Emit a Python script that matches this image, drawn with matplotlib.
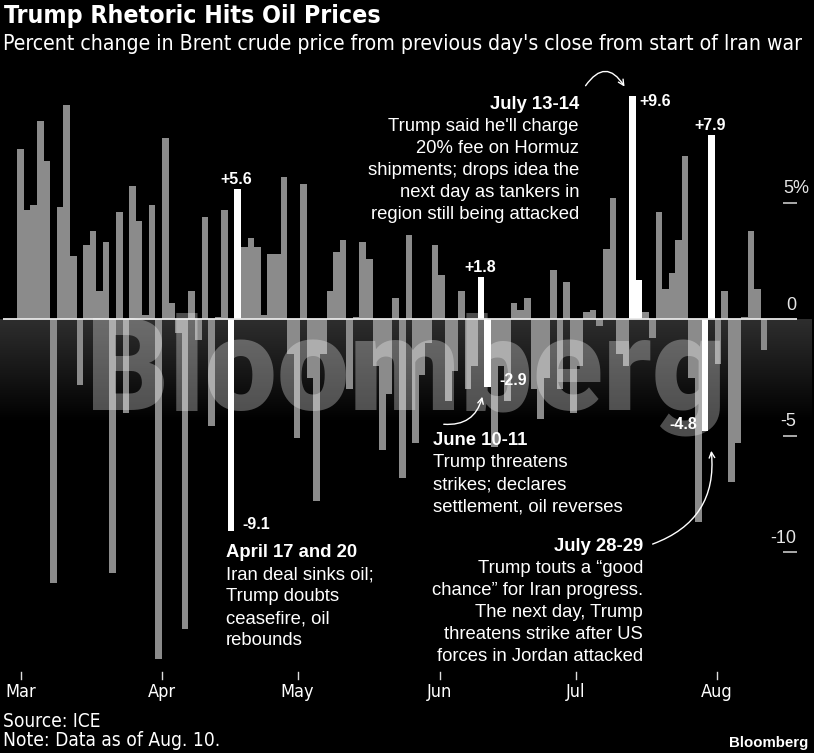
import numpy as np
import matplotlib
matplotlib.use('Agg')
import matplotlib.pyplot as plt
from matplotlib import font_manager as fm
from matplotlib.font_manager import FontProperties
from matplotlib.patches import FancyArrowPatch
from matplotlib.transforms import blended_transform_factory

# daily % change in Brent crude, one value per trading day since the war began
changes = [
    7.3, 4.7, 4.9, 8.5, 6.8, -11.3, 4.8, 9.2, 2.7, -2.8,
    3.2, 3.8, 1.2, 3.3, -10.9, 4.6, -4.0, 5.7, 4.2, 0.2,
    4.9, -14.6, 7.8, 0.7, -0.6, -13.3, 1.2, -0.9, 4.4, -4.6,
    0.1, 4.7, -9.1, 5.6, 3.1, 3.5, 3.1, 0.2, 2.8, 2.8,
    6.1, -1.5, -5.1, 5.8, -2.5, -7.8, -1.5, 1.2, 2.9, 3.4,
    -3.0, 0.1, 3.3, 2.6, -2.0, -5.6, -3.2, 0.9, -6.8, 3.6,
    -5.3, -2.4, -1.0, 3.2, 1.9, -3.5, -2.2, 1.2, -3.0, -2.0,
    1.8, -2.9, -5.5, -2.0, -3.5, 0.7, 0.4, 0.9, -3.0, -4.3,
    -2.5, 2.1, -3.0, 1.6, -4.0, -2.0, 0.3, 0.4, -0.3, 3.0,
    5.2, -1.5, -2.0, 9.6, 1.7, 0.3, -0.8, 4.6, 1.3, 2.0,
    3.4, 7.0, -2.5, -8.7, -4.8, 7.9, -1.9, 1.2, -7.0, -5.3,
    0.1, 3.8, 1.3, -1.3,
]
highlight_days = [32, 33, 70, 71, 93, 94, 104, 105]

# value callouts: day index, text, where it sits
callouts = [
    (32, '-9.1', 'right_end'),
    (33, '+5.6', 'above'),
    (70, '+1.8', 'above'),
    (71, '-2.9', 'right_end'),
    (93, '+9.6', 'right_top'),
    (104, '-4.8', 'left_end'),
    (105, '+7.9', 'above'),
]

month_pos = [0.03, 21.5, 42.1, 63.7, 84.4, 105.8]
month_labels = ['Mar', 'Apr', 'May', 'Jun', 'Jul', 'Aug']

ytick_vals = [5, 0, -5, -10]
ytick_labels = ['5%', '0', '-5', '-10']

notes = [
    (226, 557, 'left', 'April 17 and 20',
     ['Iran deal sinks oil;', 'Trump doubts', 'ceasefire, oil', 'rebounds']),
    (433, 445, 'left', 'June 10-11',
     ['Trump threatens', 'strikes; declares', 'settlement, oil reverses']),
    (579, 109, 'right', 'July 13-14',
     ["Trump said he'll charge", '20% fee on Hormuz', 'shipments; drops idea the',
      'next day as tankers in', 'region still being attacked']),
    (643, 551, 'right', 'July 28-29',
     ['Trump touts a \u201cgood', 'chance\u201d for Iran progress.', 'The next day, Trump',
      'threatens strike after US', 'forces in Jordan attacked']),
]

W, H = 814, 753
X0, DX = 20.6, 6.58     # pixel centre of day 0, pixels per day
Y0, DY = 319.3, 23.3    # pixel row of 0%, pixels per percent
GRAY = '#8b8b8b'


def px2x(px):
    return (px - X0) / DX


def py2y(py):
    return (Y0 - py) / DY


def wnum(w):
    if isinstance(w, (int, float)):
        return w
    return fm.weight_dict.get(str(w).lower(), 400)


def condensed_face(bold):
    # look for any installed condensed / narrow sans face
    order = ['dejavu', 'liberation', 'noto sans', 'open sans', 'roboto']
    best = None
    for f in fm.fontManager.ttflist:
        nm = f.name.lower()
        if 'mono' in nm or 'cjk' in nm or 'serif' in nm or f.style != 'normal':
            continue
        if not (str(f.stretch).lower() in ('condensed', 'semi-condensed')
                or 'condensed' in nm or 'narrow' in nm):
            continue
        wt = wnum(f.weight)
        if bold and wt < 600:
            continue
        if not bold and not (350 <= wt <= 500):
            continue
        rank = next((i for i, o in enumerate(order) if nm.startswith(o)), len(order))
        if best is None or rank < best[0]:
            best = (rank, f.fname)
    return best[1] if best else None


def cond_props(size, bold=False):
    fn = condensed_face(bold)
    if fn:
        return FontProperties(fname=fn, size=size)
    return FontProperties(family='DejaVu Sans', weight='bold' if bold else 'normal', size=size)


def heavy_props(size):
    for fam in ['Roboto', 'Lato', 'Inter', 'Open Sans']:
        for f in fm.fontManager.ttflist:
            if f.name == fam and f.style == 'normal' and wnum(f.weight) >= 800:
                return FontProperties(fname=f.fname, size=size)
    return FontProperties(family='Liberation Sans', weight='bold', size=size)


fig = plt.figure(figsize=(W / 100, H / 100), dpi=100)
fig.patch.set_facecolor('black')
ax = fig.add_axes([0, 0, 1, 1])
ax.set_facecolor('black')
ax.set_xlim(px2x(0), px2x(W))
ax.set_ylim(py2y(H), py2y(0))
ax.axis('off')
renderer = fig.canvas.get_renderer()


def fig_text(x, y, s, **kw):
    return fig.text(x / W, 1 - y / H, s, **kw)


def fit_text(x, y, s, width, props, **kw):
    t = fig_text(x, y, s, fontproperties=props, **kw)
    w = t.get_window_extent(renderer).width
    p = props.copy()
    p.set_size(props.get_size() * width / w)
    t.set_fontproperties(p)
    return t


# gradient band under the zero line
grad = np.linspace(0.18, 0.0, 200).reshape(-1, 1)
ax.imshow(np.dstack([grad] * 3), aspect='auto', interpolation='bilinear',
          extent=(px2x(0), px2x(812), py2y(422), 0), zorder=0)

days = np.arange(len(changes))
colors = ['white' if d in highlight_days else GRAY for d in days]
ax.bar(days, changes, width=1.0, color=colors, linewidth=0, zorder=2)
hl = np.array(highlight_days)
ax.bar(hl, np.array(changes)[hl], width=1.0, color='white', linewidth=0, zorder=4)

# watermark
fit_text(86, 410, 'Bloomberg', 640, heavy_props(90), color='white', alpha=0.3,
         ha='left', va='baseline', zorder=3)

ax.hlines(0, px2x(3), px2x(797), color='#e8e8e8', lw=1.3, zorder=5)

# right axis
lab_font = dict(family='Liberation Sans', size=13, color='#e6e6e6')
for v, lab in zip(ytick_vals, ytick_labels):
    if v != 0:
        ax.hlines(v, px2x(783), px2x(797), color='#d8d8d8', lw=1.1, zorder=5)
    pct = lab.endswith('%')
    ax.annotate(lab, (px2x(783) if pct else px2x(796), v),
                xytext=(0, 7), textcoords='offset points',
                ha='left' if pct else 'right', va='baseline', **lab_font)

# month axis
bt = blended_transform_factory(ax.transData, fig.transFigure)
for m in month_pos:
    ax.plot([m, m], [1 - 672 / H, 1 - 679 / H], color='#dddddd', lw=1, transform=bt)
month_font = cond_props(13)
for m, lab in zip(month_pos, month_labels):
    ax.text(m, 1 - 697 / H, lab, transform=bt, ha='center', va='baseline',
            color='white', fontproperties=month_font)

# value callouts
pt = 0.72  # points per pixel
for d, txt, where in callouts:
    v = changes[d]
    kw = dict(textcoords='offset points', va='baseline', color='white',
              family='Liberation Sans', weight='bold', size=11.5, zorder=6)
    if where == 'above':
        ax.annotate(txt, (d, v), xytext=(-1 * pt, 5 * pt), ha='center', **kw)
    elif where == 'right_end':
        ax.annotate(txt, (d + 0.5, v), xytext=(8 * pt, 2 * pt), ha='left', **kw)
    elif where == 'left_end':
        ax.annotate(txt, (d - 0.5, v), xytext=(-5 * pt, 2 * pt), ha='right', **kw)
    else:
        ax.annotate(txt, (d + 0.5, v), xytext=(4 * pt, -10 * pt), ha='left', **kw)

# story annotations
for x, y, ha, head, body in notes:
    fig_text(x, y, head, ha=ha, va='baseline', color='white',
             family='Liberation Sans', weight='bold', size=13.3, zorder=6)
    for i, line in enumerate(body):
        fig_text(x, y + 22 * (i + 1), line, ha=ha, va='baseline', color='white',
                 family='Liberation Sans', size=13.3, zorder=6)

arrows = [((584, 88), (626, 89), -0.8),
          ((441, 424), (483, 394), 0.45),
          ((650, 545), (711, 448), 0.4)]
for (x0, y0), (x1, y1), rad in arrows:
    fig.add_artist(FancyArrowPatch((x0 / W, 1 - y0 / H), (x1 / W, 1 - y1 / H),
                                   transform=fig.transFigure,
                                   connectionstyle=f'arc3,rad={rad}',
                                   arrowstyle='->', mutation_scale=10,
                                   color='white', lw=1.0, zorder=6))

# title and footer
fit_text(4, 23, 'Trump Rhetoric Hits Oil Prices', 377, cond_props(16, bold=True),
         color='white', va='baseline')
fit_text(3, 50, "Percent change in Brent crude price from previous day's close from start of Iran war",
         807, cond_props(14), color='white', va='baseline')
fit_text(3, 727, 'Source: ICE', 98, cond_props(12), color='white', va='baseline')
fit_text(3, 746, 'Note: Data as of Aug. 10.', 218, cond_props(12), color='white', va='baseline')
fig_text(808, 747, 'Bloomberg', ha='right', va='baseline', color='white',
         family='Liberation Sans', weight='bold', size=10.8)

fig.savefig('out.png', dpi=100, facecolor='black')
